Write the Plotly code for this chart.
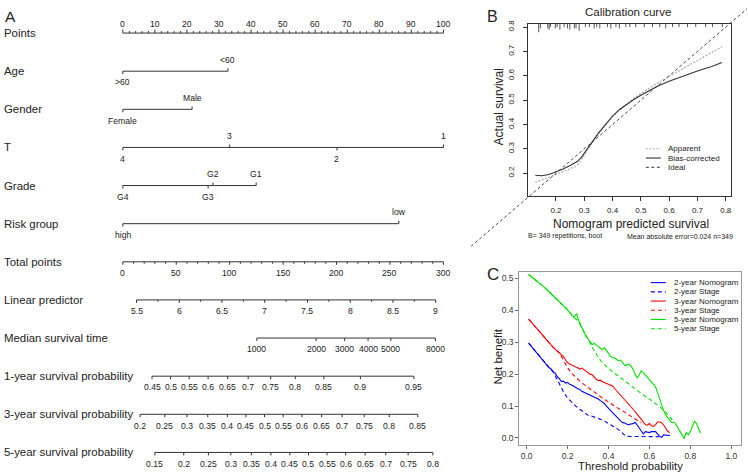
import plotly.graph_objects as go

W, H = 748, 473
FONT = "Liberation Sans, Arial, Helvetica, sans-serif"
INK = "#222222"

# ======================= Panel A : nomogram data =======================
row_names = ["Points", "Age", "Gender", "T", "Grade", "Risk group", "Total points",
             "Linear predictor", "Median survival time", "1-year survival probability",
             "3-year survival probability", "5-year survival probability"]

points_ticks = [0, 10, 20, 30, 40, 50, 60, 70, 80, 90, 100]

age_levels = [">60", "<60"]
age_points = [0, 32.8]
gender_levels = ["Female", "Male"]
gender_points = [0, 21.6]
t_levels = ["4", "3", "2", "1"]
t_points = [0, 33.3, 66.8, 100]
grade_levels = ["G4", "G3", "G2", "G1"]
grade_points = [0, 26.6, 28.1, 41.6]
risk_levels = ["high", "low"]
risk_points = [0, 86.1]

total_points_ticks = [0, 50, 100, 150, 200, 250, 300]
points_per_total = 100 / 300

lp_ticks = [5.5, 6, 6.5, 7, 7.5, 8, 8.5, 9]
lp_points = [4.27, 17.6, 30.93, 44.27, 57.6, 70.93, 84.27, 97.6]

median_ticks = [1000, 2000, 3000, 4000, 5000, 8000]
median_points = [41.8, 60.3, 69.2, 76.5, 83.6, 97.5]

surv1_ticks = [0.45, 0.5, 0.55, 0.6, 0.65, 0.7, 0.75, 0.8, 0.85, 0.9, 0.95]
surv1_points = [9.1, 14.9, 20.7, 26.6, 32.7, 39.1, 46.1, 53.8, 62.7, 74.1, 90.8]

surv3_ticks = [0.2, 0.25, 0.3, 0.35, 0.4, 0.45, 0.5, 0.55, 0.6, 0.65, 0.7, 0.75, 0.8, 0.85]
surv3_points = [5.4, 13.1, 20.0, 26.5, 32.6, 38.4, 44.2, 50.0, 55.9, 62.0, 68.4, 75.3, 83.1, 92.0]

surv5_ticks = [0.15, 0.2, 0.25, 0.3, 0.35, 0.4, 0.45, 0.5, 0.55, 0.6, 0.65, 0.7, 0.75, 0.8]
surv5_points = [10.0, 19.0, 26.7, 33.7, 40.1, 46.2, 52.1, 57.9, 63.7, 69.5, 75.6, 82.0, 89.0, 96.7]

# ======================= Panel B : calibration data =======================
cal_pred = [0.127, 0.15, 0.175, 0.2, 0.225, 0.25, 0.275, 0.29, 0.31, 0.33, 0.35, 0.375,
            0.4, 0.425, 0.45, 0.475, 0.5, 0.53, 0.56, 0.6, 0.65, 0.7, 0.75, 0.787]
cal_apparent = [0.163, 0.172, 0.183, 0.195, 0.206, 0.218, 0.232, 0.255, 0.295, 0.33, 0.362, 0.398,
                0.432, 0.46, 0.485, 0.507, 0.527, 0.55, 0.571, 0.598, 0.63, 0.662, 0.694, 0.72]
cal_bias = [0.192, 0.19, 0.195, 0.205, 0.217, 0.232, 0.248, 0.265, 0.3, 0.333, 0.365, 0.4,
            0.435, 0.462, 0.484, 0.503, 0.52, 0.54, 0.558, 0.578, 0.6, 0.62, 0.638, 0.655]
ideal_line = [-0.1, 0.9]
rug_pred = [0.139, 0.145, 0.171, 0.176, 0.181, 0.198, 0.204, 0.214, 0.229, 0.241, 0.249, 0.265,
            0.271, 0.282, 0.304, 0.318, 0.335, 0.344, 0.355, 0.382, 0.394, 0.412, 0.424, 0.447,
            0.461, 0.482, 0.512, 0.541, 0.567, 0.588, 0.612, 0.635, 0.665, 0.694, 0.729, 0.753, 0.788]
rug_count = [5, 2, 2, 3, 1, 2, 1, 3, 1, 2, 3, 2, 2, 4, 1, 1, 2, 1, 2, 1, 2, 1, 2, 1, 1,
             1, 1, 1, 1, 2, 1, 1, 1, 1, 1, 1, 1]

# ======================= Panel C : decision curve data =======================
nom2_t = [0.01, 0.03, 0.05, 0.07, 0.09, 0.11, 0.12, 0.13, 0.14, 0.15, 0.16, 0.17, 0.18, 0.19, 0.20,
          0.21, 0.22, 0.23, 0.24, 0.25, 0.26, 0.27, 0.28, 0.29, 0.30, 0.31, 0.32, 0.33, 0.34, 0.35,
          0.36, 0.37, 0.38, 0.39, 0.40, 0.41, 0.42, 0.43, 0.44, 0.45, 0.46, 0.47, 0.48, 0.49, 0.50,
          0.51, 0.52, 0.53, 0.54, 0.55, 0.56, 0.57, 0.58, 0.59, 0.60, 0.61, 0.62, 0.63, 0.64, 0.65,
          0.66, 0.67, 0.68, 0.69, 0.70]
nom2_nb = [0.297, 0.282, 0.266, 0.250, 0.234, 0.220, 0.216, 0.207, 0.203, 0.192, 0.186, 0.177, 0.178,
           0.172, 0.174, 0.168, 0.166, 0.161, 0.158, 0.154, 0.152, 0.146, 0.143, 0.141, 0.138, 0.134,
           0.131, 0.128, 0.125, 0.122, 0.117, 0.113, 0.108, 0.100, 0.093, 0.086, 0.079, 0.072, 0.065,
           0.058, 0.053, 0.048, 0.047, 0.043, 0.042, 0.044, 0.045, 0.049, 0.042, 0.032, 0.022, 0.013,
           0.020, 0.018, 0.017, 0.020, 0.019, 0.020, 0.012, 0.005, 0.002, 0.010, 0.009, 0.009, 0.008]
stage2_t = [0.01, 0.03, 0.05, 0.07, 0.09, 0.11, 0.13, 0.14, 0.15, 0.16, 0.17, 0.18, 0.20, 0.22, 0.24,
            0.26, 0.28, 0.30, 0.32, 0.34, 0.36, 0.38, 0.40, 0.42, 0.44, 0.46, 0.48, 0.49, 0.52, 0.56,
            0.60, 0.66]
stage2_nb = [0.297, 0.282, 0.266, 0.250, 0.234, 0.220, 0.206, 0.195, 0.182, 0.168, 0.156, 0.145, 0.125,
             0.112, 0.100, 0.090, 0.079, 0.071, 0.068, 0.064, 0.059, 0.053, 0.046, 0.038, 0.030, 0.021,
             0.008, 0.005, 0.005, 0.005, 0.005, 0.004]
nom3_t = [0.01, 0.03, 0.05, 0.07, 0.09, 0.11, 0.13, 0.15, 0.16, 0.17, 0.18, 0.19, 0.20, 0.21, 0.22,
          0.23, 0.24, 0.25, 0.26, 0.27, 0.28, 0.29, 0.30, 0.31, 0.32, 0.33, 0.34, 0.35, 0.36, 0.37,
          0.38, 0.39, 0.40, 0.41, 0.42, 0.43, 0.44, 0.45, 0.46, 0.47, 0.48, 0.49, 0.50, 0.51, 0.52,
          0.53, 0.54, 0.55, 0.56, 0.57, 0.58, 0.59, 0.60, 0.61, 0.62, 0.63, 0.64, 0.65, 0.66, 0.67,
          0.68, 0.69, 0.70]
nom3_nb = [0.372, 0.357, 0.342, 0.327, 0.312, 0.298, 0.284, 0.272, 0.268, 0.260, 0.255, 0.245, 0.236,
           0.232, 0.228, 0.226, 0.222, 0.220, 0.216, 0.219, 0.214, 0.208, 0.204, 0.200, 0.198, 0.190,
           0.184, 0.180, 0.181, 0.176, 0.173, 0.170, 0.168, 0.165, 0.163, 0.155, 0.148, 0.142, 0.135,
           0.127, 0.120, 0.113, 0.107, 0.100, 0.092, 0.083, 0.075, 0.066, 0.058, 0.050, 0.042, 0.040,
           0.045, 0.038, 0.036, 0.042, 0.050, 0.050, 0.048, 0.040, 0.030, 0.020, 0.017]
stage3_t = [0.01, 0.03, 0.05, 0.07, 0.09, 0.11, 0.13, 0.15, 0.16, 0.17, 0.18, 0.19, 0.20, 0.22, 0.24,
            0.26, 0.28, 0.30, 0.32, 0.34, 0.36, 0.38, 0.40, 0.42, 0.44, 0.46, 0.48, 0.50, 0.52, 0.54,
            0.56]
stage3_nb = [0.372, 0.357, 0.342, 0.327, 0.312, 0.298, 0.284, 0.272, 0.266, 0.256, 0.245, 0.232, 0.220,
             0.203, 0.190, 0.178, 0.168, 0.158, 0.149, 0.140, 0.130, 0.121, 0.112, 0.104, 0.096, 0.088,
             0.080, 0.072, 0.065, 0.057, 0.048]
nom5_t = [0.01, 0.03, 0.05, 0.07, 0.09, 0.11, 0.13, 0.15, 0.17, 0.19, 0.20, 0.21, 0.22, 0.23, 0.24,
          0.245, 0.25, 0.26, 0.27, 0.28, 0.29, 0.30, 0.31, 0.32, 0.33, 0.34, 0.35, 0.36, 0.37, 0.38,
          0.39, 0.40, 0.41, 0.42, 0.43, 0.44, 0.45, 0.46, 0.47, 0.48, 0.49, 0.50, 0.51, 0.52, 0.53,
          0.54, 0.55, 0.56, 0.57, 0.58, 0.59, 0.60, 0.61, 0.62, 0.63, 0.64, 0.65, 0.66, 0.67, 0.68,
          0.69, 0.70, 0.71, 0.72, 0.73, 0.74, 0.75, 0.76, 0.77, 0.78, 0.79, 0.80, 0.81, 0.82, 0.83,
          0.84, 0.85]
nom5_nb = [0.512, 0.502, 0.492, 0.481, 0.470, 0.458, 0.446, 0.434, 0.421, 0.408, 0.401, 0.394, 0.385,
           0.378, 0.386, 0.390, 0.375, 0.360, 0.345, 0.328, 0.318, 0.310, 0.300, 0.293, 0.296, 0.292,
           0.287, 0.281, 0.277, 0.283, 0.273, 0.265, 0.256, 0.252, 0.251, 0.246, 0.242, 0.244, 0.236,
           0.227, 0.229, 0.231, 0.225, 0.215, 0.200, 0.188, 0.198, 0.210, 0.205, 0.198, 0.190, 0.185,
           0.175, 0.168, 0.160, 0.140, 0.120, 0.100, 0.085, 0.072, 0.062, 0.055, 0.048, 0.050, 0.042,
           0.030, 0.018, 0.008, -0.002, 0.018, 0.010, 0.020, 0.035, 0.052, 0.045, 0.028, 0.015]
stage5_t = [0.01, 0.03, 0.05, 0.07, 0.09, 0.11, 0.13, 0.15, 0.17, 0.19, 0.21, 0.23, 0.25, 0.26, 0.27,
            0.28, 0.30, 0.32, 0.34, 0.36, 0.38, 0.40, 0.42, 0.44, 0.46, 0.48, 0.50, 0.52, 0.54, 0.56,
            0.58, 0.60, 0.62, 0.64, 0.66, 0.68, 0.70, 0.72]
stage5_nb = [0.512, 0.502, 0.492, 0.481, 0.470, 0.458, 0.446, 0.434, 0.421, 0.408, 0.394, 0.378, 0.368,
             0.357, 0.345, 0.334, 0.310, 0.285, 0.262, 0.243, 0.230, 0.218, 0.208, 0.198, 0.188, 0.178,
             0.168, 0.158, 0.148, 0.139, 0.130, 0.122, 0.113, 0.104, 0.093, 0.080, 0.066, 0.050]

dca_series = [
    ("2-year Nomogram", nom2_t, nom2_nb, "#0000ff", "solid"),
    ("2-year Stage", stage2_t, stage2_nb, "#0000ff", "4px,3px"),
    ("3-year Nomogram", nom3_t, nom3_nb, "#ff0000", "solid"),
    ("3-year Stage", stage3_t, stage3_nb, "#ff0000", "4px,3px"),
    ("5-year Nomogram", nom5_t, nom5_nb, "#00e000", "solid"),
    ("5-year Stage", stage5_t, stage5_nb, "#00e000", "4px,3px"),
]

# ======================= layout geometry =======================
def fx(px):
    return px / W


def fy(py):
    return 1 - py / H


# nomogram scale: points 0 at px 123, 100 at px 444
PT0, PXPT = 123.0, 3.21
A_RIGHT = 470.0
nomo_xrange = [-PT0 / PXPT, (A_RIGHT - PT0) / PXPT]
ROW0, ROWPX = 29.3, 38.45
nomo_yrange = [(H - ROW0) / ROWPX, -ROW0 / ROWPX]  # reversed

fig = go.Figure()
annotations = []
shapes = []

lx, ly = [], []


def seg(x0, y0, x1, y1):
    lx.extend([x0, x1, None])
    ly.extend([y0, y1, None])


def lab(x, y, text, side, gap, size=8.6):
    annotations.append(dict(x=x, y=y, xref="x", yref="y", text=text, showarrow=False,
                            xanchor="center", yanchor="middle", yshift=-side * gap,
                            font=dict(size=size, color=INK, family=FONT)))


def fmt(v):
    return f"{v:g}"


def nomo_row(i, pts, texts, sides, major_px=3.0, minor=(), minor_px=1.8, gap=11.3):
    seg(min(pts), i, max(pts), i)
    for p, t, s in zip(pts, texts, sides):
        seg(p, i, p, i + s * major_px / ROWPX)
        lab(p, i, t, s, gap)
    for p in minor:
        s = sides[0]
        seg(p, i, p, i + s * minor_px / ROWPX)


# row labels
for i, name in enumerate(row_names):
    annotations.append(dict(x=fx(2), y=i, xref="paper", yref="y", text=name, showarrow=False,
                            xanchor="left", yanchor="middle",
                            font=dict(size=11.4, color=INK, family=FONT)))

# Points (labels above)
nomo_row(0, points_ticks, [fmt(v) for v in points_ticks], [-1] * len(points_ticks),
         major_px=3.5, minor=[v for v in range(0, 101, 2) if v % 10], minor_px=2.0, gap=9.5)
nomo_row(1, age_points, age_levels, [1, -1])
nomo_row(2, gender_points, gender_levels, [1, -1])
nomo_row(3, t_points, t_levels, [1, -1, 1, -1])
nomo_row(4, grade_points, grade_levels, [1, 1, -1, -1])
nomo_row(5, risk_points, risk_levels, [1, -1])
tp_pts = [v * points_per_total for v in total_points_ticks]
nomo_row(6, tp_pts, [fmt(v) for v in total_points_ticks], [1] * len(tp_pts),
         minor=[v * points_per_total for v in range(0, 301, 10) if v % 50], minor_px=2.0)
lp_minor = [(a + b) / 2 for a, b in zip(lp_points[:-1], lp_points[1:])]
nomo_row(7, lp_points, [fmt(v) for v in lp_ticks], [1] * len(lp_points), minor=lp_minor)
nomo_row(8, median_points, [fmt(v) for v in median_ticks], [1] * len(median_points))
nomo_row(9, surv1_points, [fmt(v) for v in surv1_ticks], [1] * len(surv1_points))
nomo_row(10, surv3_points, [fmt(v) for v in surv3_ticks], [1] * len(surv3_points))
nomo_row(11, surv5_points, [fmt(v) for v in surv5_ticks], [1] * len(surv5_points))

fig.add_trace(go.Scatter(x=lx, y=ly, mode="lines", xaxis="x", yaxis="y",
                         line=dict(color="#333333", width=1), hoverinfo="skip"))

# ======================= Panel B =======================
B_L, B_R, B_T, B_B = 528.3, 731.7, 20.0, 193.3
b_xrange = [0.0998, 0.8176]
b_yrange = [0.108, 0.8134]
b_ypx = (B_B - B_T) / (b_yrange[1] - b_yrange[0])

rx, ry = [], []
for xv, c in zip(rug_pred, rug_count):
    rx += [xv, xv, None]
    ry += [b_yrange[1], b_yrange[1] - (2.0 + 1.3 * c) / b_ypx, None]
fig.add_trace(go.Scatter(x=rx, y=ry, mode="lines", xaxis="x2", yaxis="y2",
                         line=dict(color="#555555", width=1), hoverinfo="skip"))
fig.add_trace(go.Scatter(x=cal_pred, y=cal_apparent, mode="lines", xaxis="x2", yaxis="y2",
                         line=dict(color="#b0b0b0", width=1.3, dash="2px,1.5px"), hoverinfo="skip"))
fig.add_trace(go.Scatter(x=cal_pred, y=cal_bias, mode="lines", xaxis="x2", yaxis="y2",
                         line=dict(color="#333333", width=1.1), hoverinfo="skip"))

# invisible larger axes for the ideal line that runs beyond the plot box
ext_l, ext_b = 470.0, 250.0
px_per_x = (B_R - B_L) / (b_xrange[1] - b_xrange[0])
x4_range = [b_xrange[0] - (B_L - ext_l) / px_per_x, b_xrange[1] + (W - B_R) / px_per_x]
y4_range = [b_yrange[0] - (ext_b - B_B) / b_ypx, b_yrange[1] + B_T / b_ypx]
fig.add_trace(go.Scatter(x=ideal_line, y=ideal_line, mode="lines", xaxis="x4", yaxis="y4",
                         line=dict(color="#333333", width=0.9, dash="3px,2.5px"), hoverinfo="skip"))

# ======================= Panel C =======================
C_L, C_R, C_T, C_B = 520.0, 741.7, 270.7, 445.0
c_xrange = [-0.0356, 1.0459]
c_yrange = [-0.0227, 0.5186]
for name, t, nb, col, dash in dca_series:
    fig.add_trace(go.Scatter(x=t, y=nb, mode="lines", xaxis="x3", yaxis="y3", name=name,
                             line=dict(color=col, width=1.1, dash=dash), hoverinfo="skip"))

# ======================= legends (drawn) =======================
b_leg = [("Apparent", "#b0b0b0", "2px,1.5px"), ("Bias-corrected", "#333333", "solid"),
         ("Ideal", "#333333", "3px,2.5px")]
for k, (txt, col, dash) in enumerate(b_leg):
    yy = 146.0 + 9.35 * k
    shapes.append(dict(type="line", xref="paper", yref="paper", x0=fx(646.7), x1=fx(661.7),
                       y0=fy(yy), y1=fy(yy), line=dict(color=col, width=1.1, dash=dash)))
    annotations.append(dict(x=fx(666.7), y=fy(yy), xref="paper", yref="paper", text=txt,
                            showarrow=False, xanchor="left", yanchor="middle",
                            font=dict(size=8, color=INK, family=FONT)))
for k, (name, t, nb, col, dash) in enumerate(dca_series):
    yy = 281.0 + 9.3 * k
    shapes.append(dict(type="line", xref="paper", yref="paper", x0=fx(651.7), x1=fx(666.7),
                       y0=fy(yy), y1=fy(yy), line=dict(color=col, width=1.1, dash=dash)))
    annotations.append(dict(x=fx(672.5), y=fy(yy), xref="paper", yref="paper", text=name,
                            showarrow=False, xanchor="left", yanchor="middle",
                            font=dict(size=8, color=INK, family=FONT)))

# ======================= titles / letters =======================
def ptext(x, y, text, size, xanchor="center", angle=0):
    annotations.append(dict(x=fx(x), y=fy(y), xref="paper", yref="paper", text=text,
                            showarrow=False, xanchor=xanchor, yanchor="middle", textangle=angle,
                            font=dict(size=size, color=INK, family=FONT)))


ptext(3, 12.5, "A", 15.5, "left")
ptext(486, 12.5, "B", 16, "left")
ptext(486, 273, "C", 17, "left")
ptext(629.3, 8.5, "Calibration curve", 11.5)
ptext(500, 104, "Actual survival", 12, angle=-90)
ptext(632.3, 221.5, "Nomogram predicted survival", 12)
ptext(526.7, 234, "B= 349 repetitions, boot", 7, "left")
ptext(736, 234, "Mean absolute error=0.024 n=349", 7, "right")
ptext(498.3, 356, "Net benefit", 11.5, angle=-90)
ptext(631.7, 465.5, "Threshold probability", 11.3)

# ======================= axes =======================
hidden = dict(visible=False, showgrid=False, zeroline=False, fixedrange=True)
b_axis = dict(showline=True, mirror=True, linecolor="#333333", linewidth=1, ticks="outside",
              ticklen=4, tickwidth=1, tickcolor="#333333", showgrid=False, zeroline=False,
              tickfont=dict(size=8, color=INK, family=FONT), fixedrange=True, tickformat=".1f")
c_axis = dict(showline=True, mirror=True, linecolor="#9a9a9a", linewidth=1, ticks="outside",
              ticklen=3, tickwidth=1, tickcolor="#666666", showgrid=False, zeroline=False,
              tickfont=dict(size=8.5, color="#333333", family=FONT), fixedrange=True,
              tickformat=".1f")

fig.update_layout(
    width=W, height=H, autosize=False,
    margin=dict(l=0, r=0, t=0, b=0),
    paper_bgcolor="white", plot_bgcolor="rgba(0,0,0,0)",
    showlegend=False,
    font=dict(family=FONT, color=INK),
    xaxis=dict(domain=[0, fx(A_RIGHT)], range=nomo_xrange, anchor="y", **hidden),
    yaxis=dict(domain=[0, 1], range=nomo_yrange, anchor="x", **hidden),
    xaxis2=dict(domain=[fx(B_L), fx(B_R)], range=b_xrange, anchor="y2",
                tickvals=[0.2, 0.3, 0.4, 0.5, 0.6, 0.7, 0.8], ticklabelstandoff=3, **b_axis),
    yaxis2=dict(domain=[fy(B_B), fy(B_T)], range=b_yrange, anchor="x2",
                tickvals=[0.2, 0.3, 0.4, 0.5, 0.6, 0.7, 0.8], tickangle=-90,
                ticklabelstandoff=5, **b_axis),
    xaxis3=dict(domain=[fx(C_L), fx(C_R)], range=c_xrange, anchor="y3",
                tickvals=[0, 0.2, 0.4, 0.6, 0.8, 1.0], ticklabelstandoff=0, **c_axis),
    yaxis3=dict(domain=[fy(C_B), fy(C_T)], range=c_yrange, anchor="x3",
                tickvals=[0, 0.1, 0.2, 0.3, 0.4, 0.5], ticklabelstandoff=0, **c_axis),
    xaxis4=dict(domain=[fx(ext_l), 1], range=x4_range, anchor="y4", **hidden),
    yaxis4=dict(domain=[fy(ext_b), 1], range=y4_range, anchor="x4", **hidden),
    annotations=annotations,
    shapes=shapes,
)

fig.write_html("out.html", config={"displayModeBar": False},
               post_script="document.body.style.margin='0';document.body.style.overflow='hidden';")
